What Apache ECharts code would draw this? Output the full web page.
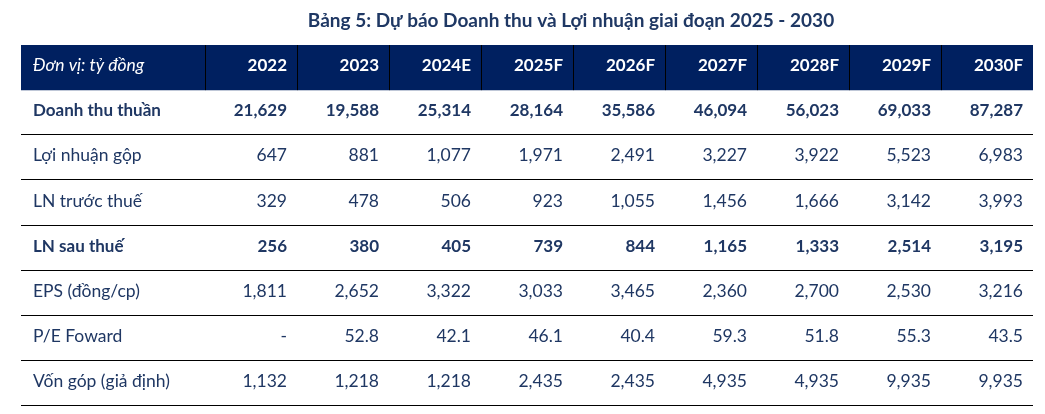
<!DOCTYPE html>
<html><head><meta charset="utf-8">
<script src="https://cdn.jsdelivr.net/npm/echarts@6/dist/echarts.min.js"></script>
<style>html,body{margin:0;padding:0;background:#fff}#c{width:1045px;height:414px}</style>
</head><body><div id="c"></div>
<script>
const titleText = 'Bảng 5: Dự báo Doanh thu và Lợi nhuận giai đoạn 2025 - 2030';
const unitLabel = 'Đơn vị: tỷ đồng';
const years = ['2022', '2023', '2024E', '2025F', '2026F', '2027F', '2028F', '2029F', '2030F'];
const rowLabels = ['Doanh thu thuần', 'Lợi nhuận gộp', 'LN trước thuế', 'LN sau thuế', 'EPS (đồng/cp)', 'P/E Foward', 'Vốn góp (giả định)'];
const revenue = [21629, 19588, 25314, 28164, 35586, 46094, 56023, 69033, 87287];
const grossProfit = [647, 881, 1077, 1971, 2491, 3227, 3922, 5523, 6983];
const profitBeforeTax = [329, 478, 506, 923, 1055, 1456, 1666, 3142, 3993];
const profitAfterTax = [256, 380, 405, 739, 844, 1165, 1333, 2514, 3195];
const eps = [1811, 2652, 3322, 3033, 3465, 2360, 2700, 2530, 3216];
const peForward = [null, 52.8, 42.1, 46.1, 40.4, 59.3, 51.8, 55.3, 43.5];
const capital = [1132, 1218, 1218, 2435, 2435, 4935, 4935, 9935, 9935];
const boldRows = [true, false, false, true, false, false, false];
const decimals = [0, 0, 0, 0, 0, 1, 0];

const rowsData = [revenue, grossProfit, profitBeforeTax, profitAfterTax, eps, peForward, capital];

function fmt(v, d) {
  if (v === null || v === undefined) return '-';
  const s = v.toFixed(d);
  const parts = s.split('.');
  parts[0] = parts[0].replace(/\B(?=(\d{3})+(?!\d))/g, ',');
  return parts.join('.');
}

const cells = [];
cells.push({ col: 0, row: 0, text: unitLabel, head: true, italic: true });
years.forEach((y, i) => cells.push({ col: i + 1, row: 0, text: y, head: true, bold: true }));
rowLabels.forEach((lab, r) => {
  cells.push({ col: 0, row: r + 1, text: lab, bold: boldRows[r] });
  rowsData[r].forEach((v, i) => cells.push({ col: i + 1, row: r + 1, text: fmt(v, decimals[r]), bold: boldRows[r] }));
});
const data = cells.map(c => [c.col, c.row]);

const FONT = 'Lato, "Open Sans", sans-serif';
const TEXT_COLOR = '#1f3763';
const HEAD_BG = '#002060';

function renderItem(params, api) {
  const c = cells[params.dataIndex];
  const x0 = c.col === 0 ? 0 : c.col + 1;
  const x1 = c.col === 0 ? 2 : c.col + 2;
  const tl = api.coord([x0, c.row]);
  const br = api.coord([x1, c.row + 1]);
  const left = tl[0], right = br[0], top = tl[1], bottom = br[1];
  const children = [];
  if (c.head) {
    children.push({ type: 'rect', shape: { x: left, y: top, width: right - left, height: bottom - top }, style: { fill: HEAD_BG } });
    if (c.col > 0) {
      const xx = Math.round(left) + 0.5;
      children.push({ type: 'line', shape: { x1: xx, y1: top, x2: xx, y2: bottom }, style: { stroke: '#000', lineWidth: 1 } });
    }
  } else {
    const yy = Math.round(bottom) - 0.5;
    children.push({ type: 'line', shape: { x1: left, y1: yy, x2: right, y2: yy }, style: { stroke: '#000', lineWidth: 1.2 } });
  }
  const size = c.bold ? 17 : 17.5;
  const font = (c.italic ? 'italic ' : '') + (c.bold ? 'bold ' : '') + size + 'px ' + FONT;
  children.push({
    type: 'text',
    style: {
      text: c.text,
      x: c.col === 0 ? left + 12 : right - 10,
      y: (top + bottom) / 2 - 2,
      align: c.col === 0 ? 'left' : 'right',
      verticalAlign: 'middle',
      font: font,
      fill: c.head ? '#ffffff' : TEXT_COLOR
    }
  });
  return { type: 'group', children };
}

const chart = echarts.init(document.getElementById('c'), null, { renderer: 'canvas' });
chart.setOption({
  animation: false,
  backgroundColor: '#ffffff',
  title: {
    text: titleText,
    left: 566,
    top: 6,
    textAlign: 'center',
    textStyle: { fontFamily: FONT, fontSize: 19, fontWeight: 'bold', color: '#1f3864' }
  },
  grid: { left: 21, top: 45, width: 1012, height: 361 },
  xAxis: { type: 'value', min: 0, max: 11, show: false },
  yAxis: { type: 'value', min: 0, max: 8, inverse: true, show: false },
  series: [{
    type: 'custom',
    silent: true,
    clip: false,
    renderItem: renderItem,
    encode: { x: 0, y: 1 },
    data: data
  }]
});
</script>
</body></html>
